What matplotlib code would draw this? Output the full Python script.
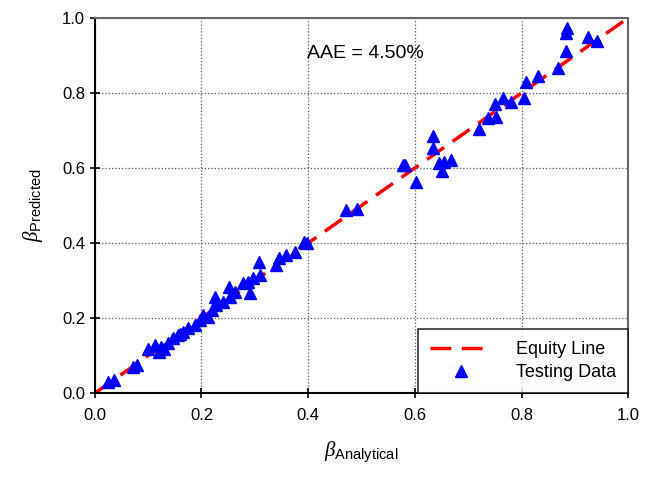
import numpy as np
import matplotlib
matplotlib.use("Agg")
import matplotlib.pyplot as plt

plt.rcParams["font.family"] = ["Liberation Sans", "DejaVu Sans"]
plt.rcParams["mathtext.fontset"] = "custom"
plt.rcParams["mathtext.rm"] = "Liberation Sans"
plt.rcParams["mathtext.it"] = "Liberation Serif:italic"

# testing data: (analytical, predicted)
beta_analytical = [
    0.025, 0.036, 0.072, 0.079, 0.099, 0.112, 0.120, 0.125, 0.130, 0.137,
    0.147, 0.156, 0.160, 0.165, 0.175, 0.187, 0.197, 0.203, 0.212, 0.219,
    0.228, 0.225, 0.240, 0.253, 0.252, 0.262, 0.278, 0.287, 0.290, 0.296,
    0.309, 0.308, 0.340, 0.346, 0.359, 0.375, 0.393, 0.397,
    0.471, 0.491, 0.577, 0.582, 0.602, 0.634, 0.634, 0.646, 0.655, 0.668,
    0.651, 0.721, 0.737, 0.752, 0.751, 0.765, 0.780, 0.805, 0.808, 0.830,
    0.869, 0.884, 0.884, 0.886, 0.924, 0.941,
]
beta_predicted = [
    0.030, 0.035, 0.070, 0.075, 0.119, 0.128, 0.110, 0.123, 0.118, 0.133,
    0.146, 0.155, 0.158, 0.163, 0.173, 0.181, 0.195, 0.208, 0.203, 0.221,
    0.235, 0.257, 0.243, 0.257, 0.283, 0.270, 0.293, 0.297, 0.267, 0.306,
    0.315, 0.350, 0.341, 0.360, 0.368, 0.377, 0.403, 0.400,
    0.488, 0.492, 0.608, 0.608, 0.563, 0.685, 0.652, 0.612, 0.617, 0.621,
    0.593, 0.704, 0.733, 0.737, 0.770, 0.786, 0.775, 0.786, 0.830, 0.844,
    0.866, 0.911, 0.960, 0.973, 0.950, 0.939,
]
equity = [0.0, 1.0]
aae_text = "AAE = 4.50%"

fig = plt.figure(figsize=(6.45, 4.83), dpi=100)
ax = fig.add_axes([0.147, 0.186, 0.827, 0.777])

ax.plot(equity, equity, color="red", lw=2.5, linestyle=(0, (6, 3)),
        label="Equity Line", zorder=2)
ax.plot(beta_analytical, beta_predicted, linestyle="none", marker="^",
        color="blue", markersize=9, label="Testing Data", zorder=3)

ax.set_xlim(0, 1)
ax.set_ylim(0, 1)
ax.set_xticks(np.arange(0, 1.01, 0.2))
ax.set_yticks(np.arange(0, 1.01, 0.2))
ax.xaxis.set_major_formatter(plt.FormatStrFormatter("%.1f"))
ax.yaxis.set_major_formatter(plt.FormatStrFormatter("%.1f"))
ax.tick_params(direction="inout", length=7, width=1.2, labelsize=12)
ax.tick_params(axis="x", pad=7)
ax.grid(True, linestyle=":", color="#555555", lw=0.9)

for side in ["left", "bottom"]:
    ax.spines[side].set_linewidth(1.5)
    ax.spines[side].set_color("black")
for side in ["top", "right"]:
    ax.spines[side].set_linewidth(1.5)
    ax.spines[side].set_color("#666666")

ax.set_xlabel(r"$\it{\beta}_{\mathrm{Analytical}}$", fontsize=15, labelpad=12)
ax.set_ylabel(r"$\it{\beta}_{\mathrm{Predicted}}$", fontsize=15, labelpad=12)

ax.text(0.507, 0.905, aae_text, fontsize=14, ha="center", va="center",
        transform=ax.transAxes)

leg = ax.legend(loc="lower right", fontsize=13, frameon=True, fancybox=False,
                edgecolor="black", handlelength=3.4, handletextpad=1.35,
                borderpad=0.68, labelspacing=0.3, borderaxespad=0)
leg.get_frame().set_linewidth(1.2)

fig.savefig("out.png", dpi=100)
